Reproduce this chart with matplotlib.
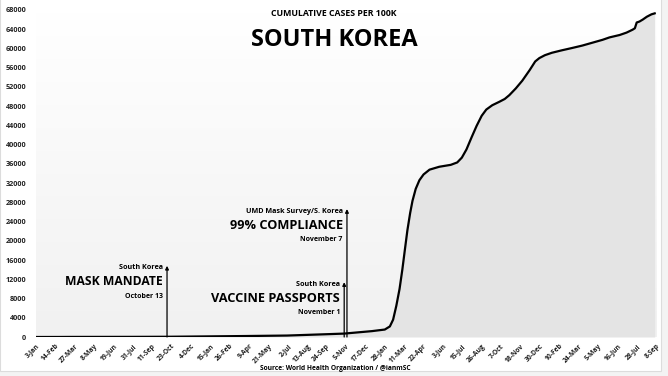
import pandas as pd
import matplotlib.pyplot as plt
import matplotlib.dates as mdates
import numpy as np

# cumulative cases per 100k
fechas = ['2020-01-03', '2020-02-20', '2020-03-15', '2020-05-01', '2020-08-01', '2020-10-13',
          '2020-12-31', '2021-03-31', '2021-06-30', '2021-09-30', '2021-11-01', '2021-12-31',
          '2022-01-28', '2022-02-08', '2022-02-15', '2022-02-22', '2022-03-01', '2022-03-07',
          '2022-03-13', '2022-03-18', '2022-03-24', '2022-03-29', '2022-04-05', '2022-04-13',
          '2022-04-22', '2022-05-05', '2022-05-26', '2022-06-20', '2022-07-04', '2022-07-14',
          '2022-07-24', '2022-08-04', '2022-08-15', '2022-08-26', '2022-09-05', '2022-09-18',
          '2022-10-03', '2022-10-15', '2022-10-25', '2022-11-08', '2022-11-22', '2022-12-08',
          '2022-12-20', '2022-12-29', '2023-01-10', '2023-01-25', '2023-02-15', '2023-03-10',
          '2023-04-01', '2023-04-23', '2023-05-15', '2023-05-30', '2023-06-21', '2023-07-06',
          '2023-07-19', '2023-07-24', '2023-07-28', '2023-08-03', '2023-08-10', '2023-08-19',
          '2023-08-29', '2023-09-05']
casos = [0, 5, 16, 21, 28, 48,
         118, 200, 300, 600, 710, 1220,
         1550, 2200, 3600, 6500, 10000, 14000,
         18500, 22200, 25800, 28300, 30800, 32600,
         33800, 34800, 35400, 35800, 36300, 37300,
         39000, 41500, 43900, 46000, 47300, 48200,
         48900, 49500, 50300, 51700, 53300, 55500,
         57300, 58000, 58600, 59100, 59600, 60100,
         60600, 61200, 61800, 62300, 62800, 63300,
         63900, 64200, 65400, 65600, 66000, 66600,
         67100, 67300]

tick_fechas = ['2020-01-03', '2020-02-14', '2020-03-27', '2020-05-08', '2020-06-19', '2020-07-31',
               '2020-09-11', '2020-10-23', '2020-12-04', '2021-01-15', '2021-02-26', '2021-04-09',
               '2021-05-21', '2021-07-02', '2021-08-13', '2021-09-24', '2021-11-05', '2021-12-17',
               '2022-01-28', '2022-03-11', '2022-04-22', '2022-06-03', '2022-07-15', '2022-08-26',
               '2022-10-07', '2022-11-18', '2022-12-30', '2023-02-10', '2023-03-24', '2023-05-05',
               '2023-06-16', '2023-07-28', '2023-09-08']
tick_labels = ['3-Jan', '14-Feb', '27-Mar', '8-May', '19-Jun', '31-Jul', '11-Sep', '23-Oct',
               '4-Dec', '15-Jan', '26-Feb', '9-Apr', '21-May', '2-Jul', '13-Aug', '24-Sep',
               '5-Nov', '17-Dec', '28-Jan', '11-Mar', '22-Apr', '3-Jun', '15-Jul', '26-Aug',
               '7-Oct', '18-Nov', '30-Dec', '10-Feb', '24-Mar', '5-May', '16-Jun', '28-Jul', '8-Sep']

# (date, arrow top, top label, big label, date label)
eventos = [
    ('2020-10-13', 14800, 'South Korea', 'MASK MANDATE', 'October 13'),
    ('2021-11-01', 11400, 'South Korea', 'VACCINE PASSPORTS', 'November 1'),
    ('2021-11-07', 26600, 'UMD Mask Survey/S. Korea', '99% COMPLIANCE', 'November 7'),
]

plt.rcParams['font.family'] = ['Open Sans', 'DejaVu Sans']

x = pd.to_datetime(fechas)
y = np.array(casos)

fig = plt.figure(figsize=(6.68, 3.76), dpi=100)
fig.patch.set_facecolor('#f3f3f3')
fig.add_artist(plt.Rectangle((0, 5 / 376), 661 / 668, 1, transform=fig.transFigure,
                             facecolor='white', edgecolor='#dcdcdc', lw=0.8, zorder=-10))

ax = fig.add_axes([36 / 668, 1 - 337 / 376, 621 / 668, 327 / 376])
ax.set_facecolor('none')

x0 = pd.Timestamp('2020-01-03')
x1 = pd.Timestamp('2023-09-10')
ax.set_xlim(x0, x1)
ax.set_ylim(0, 68000)

# faint background gradient of the plot area
grad = np.linspace(0, 1, 100).reshape(-1, 1)
cmap = plt.matplotlib.colors.LinearSegmentedColormap.from_list('g', ['#f1f1f1', '#ffffff'])
ax.imshow(grad, cmap=cmap, extent=[mdates.date2num(x0), mdates.date2num(x1), 0, 68000],
          aspect='auto', origin='lower', zorder=0)

ax.fill_between(x, y, 0, color='#e4e4e4', lw=0, zorder=1)
ax.plot(x, y, color='black', lw=1.6, zorder=3, solid_joinstyle='round')

for fecha, tope, t1, t2, t3 in eventos:
    d = pd.Timestamp(fecha)
    ax.annotate('', xy=(d, tope), xytext=(d, 0),
                arrowprops=dict(arrowstyle='-|>', color='black', lw=0.9, mutation_scale=5,
                                shrinkA=0, shrinkB=0), zorder=4)
    paso = 2950
    ax.annotate(t1, xy=(d, tope - 400), xytext=(-3, 0), textcoords='offset points',
                ha='right', va='center', fontsize=5.2, fontweight='bold')
    ax.annotate(t2, xy=(d, tope - 400 - paso), xytext=(-3, 0), textcoords='offset points',
                ha='right', va='center', fontsize=9.2 if t2 != 'MASK MANDATE' else 8.7,
                fontweight='bold')
    ax.annotate(t3, xy=(d, tope - 400 - 2 * paso), xytext=(-3, 0), textcoords='offset points',
                ha='right', va='center', fontsize=5.0, fontweight='bold')

ax.set_xticks(pd.to_datetime(tick_fechas))
ax.set_xticklabels(tick_labels, rotation=45, ha='right', rotation_mode='anchor',
                   fontsize=4.9, fontweight='bold')
ax.set_yticks(np.arange(0, 68001, 4000))
ax.set_yticklabels([str(v) for v in range(0, 68001, 4000)], fontsize=5.2, fontweight='bold')
ax.tick_params(axis='both', length=0, colors='#222222')
ax.tick_params(axis='y', pad=7)
ax.tick_params(axis='x', pad=4)
for s in ax.spines.values():
    s.set_visible(False)

fig.text(0.5, 1 - 14 / 376, 'CUMULATIVE CASES PER 100K', ha='center', va='center',
         fontsize=6.3, fontweight='bold')
fig.text(0.5, 1 - 40 / 376, 'SOUTH KOREA', ha='center', va='center',
         fontsize=17, fontweight='bold')
fig.text(335 / 668, 1 - 368 / 376, 'Source: World Health Organization / @ianmSC', ha='center',
         va='center', fontsize=4.8, fontweight='bold')

fig.savefig('out.png', dpi=100, facecolor=fig.get_facecolor())
